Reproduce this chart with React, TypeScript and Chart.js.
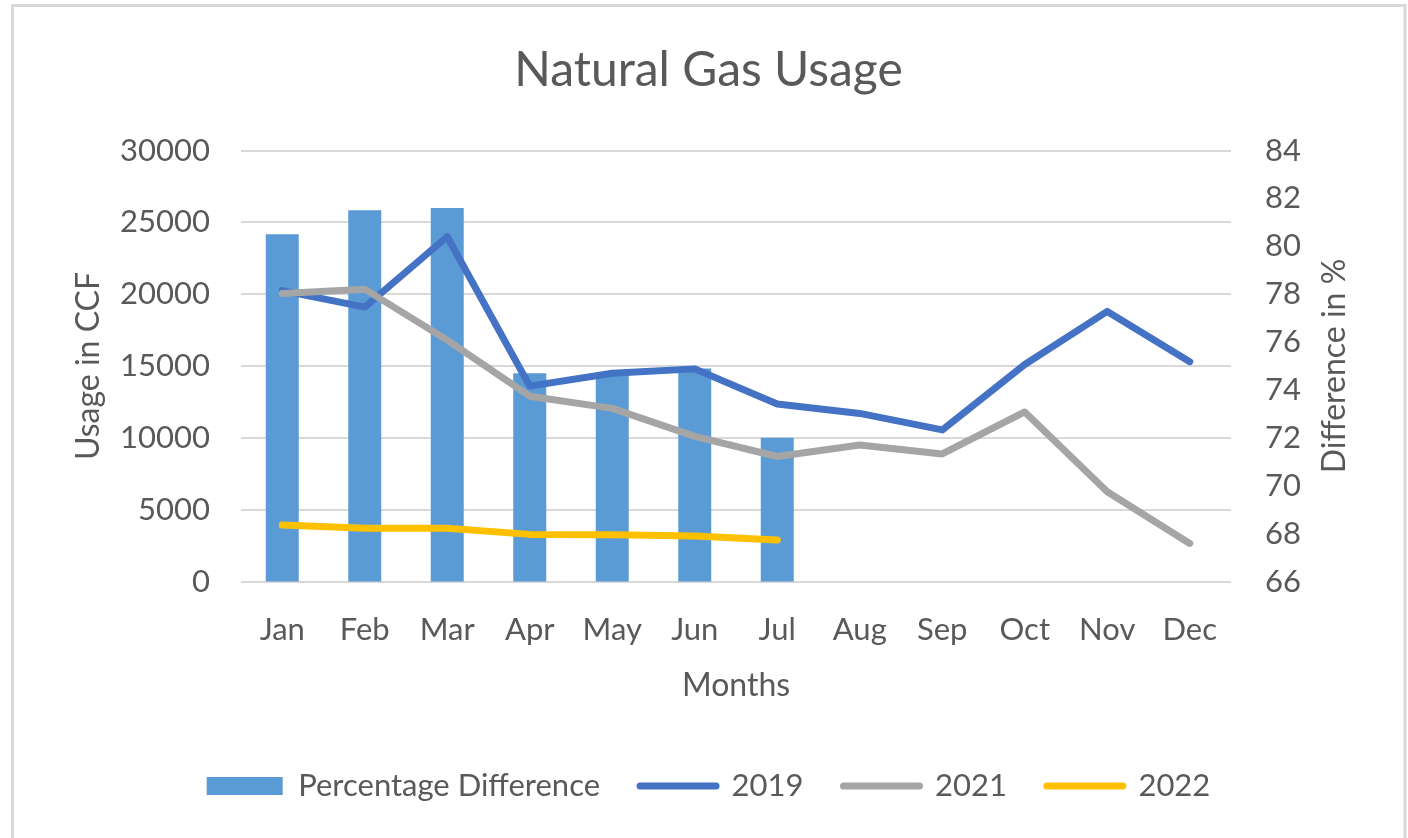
import React, { useEffect, useRef } from 'react';
import { Chart, registerables } from 'chart.js';

Chart.register(...registerables);

const months = ['Jan', 'Feb', 'Mar', 'Apr', 'May', 'Jun', 'Jul', 'Aug', 'Sep', 'Oct', 'Nov', 'Dec'];
const percentageDifference = [80.5, 81.5, 81.6, 74.7, 74.6, 74.9, 72.0, null, null, null, null, null];
const usage2019 = [20250, 19100, 24000, 13600, 14500, 14800, 12350, 11700, 10550, 15100, 18800, 15300];
const usage2021 = [20050, 20350, 16800, 12900, 12050, 10100, 8700, 9500, 8880, 11800, 6250, 2650];
const usage2022 = [3930, 3700, 3700, 3280, 3250, 3170, 2890, null, null, null, null, null];
const usageTicks = [0, 5000, 10000, 15000, 20000, 25000, 30000];
const percentTicks = [66, 68, 70, 72, 74, 76, 78, 80, 82, 84];

const FONT = 'Lato';
const TEXT = '#595959';

const framePlugin = {
  id: 'frame',
  beforeDraw(chart: any) {
    const ctx = chart.ctx;
    ctx.save();
    ctx.fillStyle = '#ffffff';
    ctx.fillRect(0, 0, chart.width, chart.height);
    ctx.strokeStyle = '#d9d9d9';
    ctx.lineWidth = 3;
    ctx.strokeRect(12.5, 5.5, 1392.5, 900);
    ctx.restore();
  },
};

const rightTitlePlugin = {
  id: 'rightTitle',
  afterDraw(chart: any) {
    const s = chart.scales.y2;
    const ctx = chart.ctx;
    ctx.save();
    ctx.translate(s.left + 104, (s.top + s.bottom) / 2);
    ctx.rotate(-Math.PI / 2);
    ctx.font = `32px ${FONT}`;
    ctx.fillStyle = TEXT;
    ctx.textAlign = 'center';
    ctx.textBaseline = 'middle';
    ctx.fillText('Difference in %', 0, 0);
    ctx.restore();
  },
};

export default function App() {
  const ref = useRef<HTMLCanvasElement>(null);

  useEffect(() => {
    if (!ref.current) return;
    const chart = new Chart(ref.current, {
      type: 'bar',
      data: {
        labels: months,
        datasets: [
          {
            type: 'bar',
            label: 'Percentage Difference',
            data: percentageDifference,
            backgroundColor: '#5B9BD5',
            borderWidth: 0,
            yAxisID: 'y2',
            barPercentage: 0.4,
            categoryPercentage: 1,
            order: 3,
          },
          {
            type: 'line',
            label: '2019',
            data: usage2019,
            borderColor: '#4472C4',
            backgroundColor: '#4472C4',
            borderWidth: 7,
            pointRadius: 0,
            tension: 0,
            borderJoinStyle: 'round',
            borderCapStyle: 'round',
            yAxisID: 'y',
            order: 2,
          },
          {
            type: 'line',
            label: '2021',
            data: usage2021,
            borderColor: '#A5A5A5',
            backgroundColor: '#A5A5A5',
            borderWidth: 7,
            pointRadius: 0,
            tension: 0,
            borderJoinStyle: 'round',
            borderCapStyle: 'round',
            yAxisID: 'y',
            order: 1,
          },
          {
            type: 'line',
            label: '2022',
            data: usage2022,
            borderColor: '#FFC000',
            backgroundColor: '#FFC000',
            borderWidth: 7,
            pointRadius: 0,
            tension: 0,
            borderJoinStyle: 'round',
            borderCapStyle: 'round',
            yAxisID: 'y',
            order: 0,
          },
        ] as any,
      },
      options: {
        responsive: false,
        animation: false,
        layout: { padding: { top: 41.6, left: 12, right: 3, bottom: 26.5 } },
        plugins: {
          tooltip: { enabled: false },
          title: {
            display: true,
            text: 'Natural Gas Usage',
            color: TEXT,
            font: { family: FONT, size: 48, weight: 'normal', lineHeight: 1.2 },
            padding: { top: 0, bottom: 51.3 },
          },
          legend: {
            position: 'bottom',
            labels: {
              color: TEXT,
              font: { family: FONT, size: 31 },
              usePointStyle: true,
              pointStyleWidth: 76,
              boxHeight: 18,
              padding: 40,
              generateLabels: (c: any) =>
                c.data.datasets.map((ds: any, i: number) => ({
                  text: ds.label,
                  fillStyle: ds.backgroundColor,
                  strokeStyle: ds.type === 'bar' ? ds.backgroundColor : ds.borderColor,
                  lineWidth: ds.type === 'bar' ? 0 : 7,
                  lineCap: 'round',
                  pointStyle: ds.type === 'bar' ? 'rect' : 'line',
                  fontColor: TEXT,
                  hidden: false,
                  datasetIndex: i,
                })),
            },
          },
        },
        scales: {
          x: {
            grid: { display: false, drawTicks: false },
            border: { display: false },
            ticks: { color: TEXT, font: { family: FONT, size: 31 }, padding: 30 },
            title: {
              display: true,
              text: 'Months',
              color: TEXT,
              font: { family: FONT, size: 32 },
              padding: { top: 0, bottom: 26 },
            },
            afterFit: (s: any) => {
              s.height = 149;
            },
          },
          y: {
            position: 'left',
            min: usageTicks[0],
            max: usageTicks[usageTicks.length - 1],
            ticks: {
              stepSize: usageTicks[1] - usageTicks[0],
              color: TEXT,
              font: { family: FONT, size: 31 },
              padding: 31,
              callback: (v: any) => String(v),
            },
            grid: { color: '#d9d9d9', lineWidth: 2, drawTicks: false },
            border: { display: false },
            title: {
              display: true,
              text: 'Usage in CCF',
              color: TEXT,
              font: { family: FONT, size: 32 },
              padding: { top: 57, bottom: 0 },
            },
            afterFit: (s: any) => {
              s.width = 229;
            },
          },
          y2: {
            position: 'right',
            min: percentTicks[0],
            max: percentTicks[percentTicks.length - 1],
            ticks: {
              stepSize: percentTicks[1] - percentTicks[0],
              color: TEXT,
              font: { family: FONT, size: 31 },
              padding: 34,
            },
            grid: { drawOnChartArea: false, drawTicks: false },
            border: { display: false },
            afterFit: (s: any) => {
              s.width = 174;
            },
          },
        },
      } as any,
      plugins: [framePlugin, rightTitlePlugin],
    });
    return () => chart.destroy();
  }, []);

  return (
    <div style={{ position: 'absolute', left: 0, top: 0, width: 1408, height: 838 }}>
      <canvas ref={ref} width={1408} height={838} style={{ width: 1408, height: 838, display: 'block' }} />
    </div>
  );
}
